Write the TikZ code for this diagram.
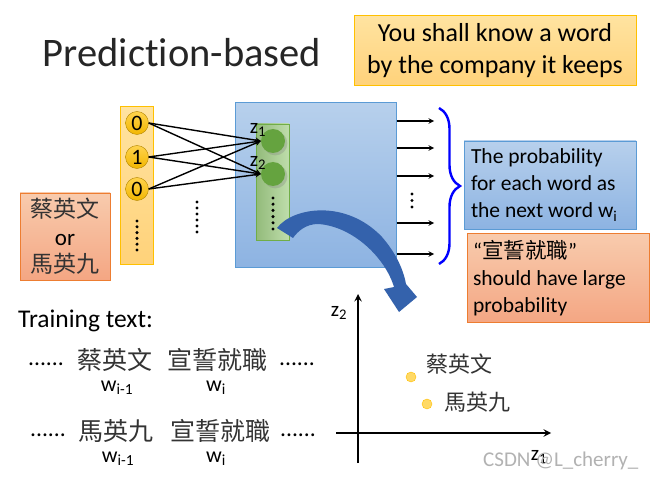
\documentclass[tikz,border=0pt]{standalone}
\usepackage{fontspec}
\setmainfont{Carlito}[RawFeature=-liga]
\newfontfamily\cjk{Noto Sans CJK TC}
\usetikzlibrary{positioning,decorations.pathreplacing,shadows}

\definecolor{goldline}{HTML}{FFC000}
\definecolor{goldtop}{HTML}{FFE3A0}
\definecolor{goldbot}{HTML}{FFD27A}
\definecolor{bluetop}{HTML}{B7D0EC}
\definecolor{bluebot}{HTML}{8DB3E2}
\definecolor{blueline}{HTML}{5B9BD5}
\definecolor{greenfill}{HTML}{A3CF88}
\definecolor{greenline}{HTML}{70AD47}
\definecolor{greenball}{HTML}{65A33F}
\definecolor{orangetop}{HTML}{F8CBAD}
\definecolor{orangebot}{HTML}{F4A683}
\definecolor{orangeline}{HTML}{ED7D31}
\definecolor{bendarrow}{HTML}{3462AC}
\definecolor{dotfill}{HTML}{FFD966}

\begin{document}
\begin{tikzpicture}[x=1pt,y=-1pt,>=stealth,
	cjk/.style={font=\cjk\fontsize{25}{28}\selectfont, text=black!80},
	plain/.style={font=\fontsize{23.5}{26}\selectfont},
	sub/.style={font=\fontsize{21}{22}\selectfont},
	wlab/.style={font=\fontsize{22}{24}\selectfont}]
	\useasboundingbox (0,0) rectangle (656,481);
	\fill[white] (0,0) rectangle (656,481);

	%TITLE & QUOTE
	\node[font=\fontsize{40.5}{44}\selectfont, text=black!85] (title) at (182,53) {Prediction-based};
	\node[draw=goldline, line width=1pt, top color=goldtop, bottom color=goldbot,
		minimum width=282pt, minimum height=70pt, align=center,
		font=\fontsize{26}{32}\selectfont] (quote) at (495,51)
		{You shall know a word\\by the company it keeps};

	%INPUT (1-of-N)
	\node[draw=goldline, line width=1pt, top color=goldtop, bottom color=goldbot,
		minimum width=33pt, minimum height=157pt] (inbox) at (136.5,185.5) {};
	\foreach \v/\y [count=\i from 0] in {0/123,1/157,0/189}{
		\node[circle, draw=goldline!70!black, top color=goldline!70, bottom color=goldline!95!black,
			minimum size=23pt, inner sep=0pt, font=\fontsize{22}{22}\selectfont] (in\i) at (137,\y) {\v};
	}
	\foreach \k in {0,...,5}{
		\fill (137,221+\k*5.8) circle (1.7);
		\fill (197,202+\k*6) circle (1.7);
	}

	%HIDDEN LAYER
	\node[draw=blueline, line width=1pt, top color=bluetop, bottom color=bluebot,
		minimum width=161pt, minimum height=164pt] (net) at (315.5,185) {};
	\node[draw=greenline, line width=0.8pt, left color=greenfill!90!black, right color=greenfill!70,
		minimum width=33pt, minimum height=116pt] (hid) at (272.5,182) {};
	\node[circle, fill=greenball, minimum size=24pt, drop shadow={opacity=0.3}] (z1) at (273,141) {};
	\node[circle, fill=greenball, minimum size=24pt, drop shadow={opacity=0.3}] (z2) at (273,174) {};
	\node[sub, anchor=south east, inner sep=0pt, xshift=2pt, yshift=-4pt] (z1lab) at (z1.north west) {z\textsubscript{1}};
	\node[sub, anchor=south east, inner sep=0pt, xshift=2pt, yshift=-4pt] (z2lab) at (z2.north west) {z\textsubscript{2}};
	\foreach \k in {0,...,5}
		\fill (273,198+\k*6.2) circle (1.7);

	%CONNECTIONS
	\foreach \i in {0,1,2}
		\foreach \j in {1,2}
			\draw[line width=1.4pt,->] (in\i.east) -- (z\j.west);

	%OUTPUTS
	\foreach \y [count=\n] in {121,148,176,223,254}{
		\coordinate (out\n) at (434,\y);
		\draw[line width=1.4pt,->] (net.east |- out\n) -- (out\n);
	}
	\foreach \k in {0,1,2}
		\fill (412,194+\k*6.5) circle (1.7);
	\draw[blue, line width=2.4pt, decorate, decoration={brace, amplitude=21pt}]
		(439,108) -- (439,264);

	%OUTPUT TEXT
	\node[draw=blueline, line width=0.8pt, top color=bluetop, bottom color=bluebot,
		minimum width=172pt, minimum height=88pt, text width=158pt, align=flush left,
		font=\fontsize{21.5}{27}\selectfont] (prob) at (550,185)
		{The probability\\for each word as\\the next word w\textsubscript{i}};
	\node[draw=orangeline, line width=0.8pt, top color=orangetop, bottom color=orangebot,
		minimum width=182pt, minimum height=89pt, text width=170pt, align=flush left,
		font=\fontsize{21.5}{27}\selectfont, below=4pt of prob.south west, anchor=north west,
		xshift=3pt] (large)
		{“{\cjk 宣誓就職}”\\should have large\\probability};

	%INPUT WORD
	\node[draw=orangeline, line width=0.8pt, top color=orangetop, bottom color=orangebot,
		minimum width=90pt, minimum height=87pt, align=center,
		font=\fontsize{23}{27.5}\selectfont] (word) at (65,236.5)
		{{\cjk\color{black!80}蔡英文}\\or\\{\cjk\color{black!80}馬英九}};

	%TRAINING TEXT
	\node[plain, font=\fontsize{25.5}{28}\selectfont, anchor=west, inner sep=0pt] (train) at (18,321) {Training text:};
	\node[plain, anchor=west, inner sep=0pt] (dl1) at (28,364) {......};
	\node[cjk, anchor=west, inner sep=0pt] (cai1) at (77,360) {蔡英文};
	\node[cjk, anchor=west, inner sep=0pt] (xuan1) at (167,360) {宣誓就職};
	\node[plain, anchor=west, inner sep=0pt] (dr1) at (279,364) {......};
	\node[wlab] (wa1) at (117,388) {w\textsubscript{i-1}};
	\node[wlab] (wb1) at (216,388) {w\textsubscript{i}};
	\node[plain, anchor=west, inner sep=0pt] (dl2) at (30,435) {......};
	\node[cjk, anchor=west, inner sep=0pt] (ma2) at (78,431) {馬英九};
	\node[cjk, anchor=west, inner sep=0pt] (xuan2) at (170,431) {宣誓就職};
	\node[plain, anchor=west, inner sep=0pt] (dr2) at (280,435) {......};
	\node[wlab] (wa2) at (118,459) {w\textsubscript{i-1}};
	\node[wlab] (wb2) at (216,459) {w\textsubscript{i}};

	%BENT ARROW
	\fill[bendarrow] (277,228) .. controls (293,207) and (346,199) .. (382,237)
		.. controls (395,252) and (403,268) .. (406,284)
		-- (417,297) -- (399,312) -- (384,289) -- (394,287)
		.. controls (385,257) and (352,226) .. (318,224)
		.. controls (306,224) and (298,231) .. (293,238) -- cycle;

	%EMBEDDING SPACE
	\coordinate (xend) at (551,433);
	\coordinate (yend) at (358,294);
	\draw[line width=2.2pt,->] (336,433) -- (xend);
	\draw[line width=2.2pt,->] (358,463) -- (yend);
	\node[sub] (z2ax) at (339,313) {z\textsubscript{2}};
	\node[sub] (z1ax) at (539,457) {z\textsubscript{1}};
	\fill[dotfill, draw=goldline] (411,377) circle (5);
	\fill[dotfill, draw=goldline] (427,404) circle (5);
	\node[cjk, font=\cjk\fontsize{22}{24}\selectfont, anchor=west, inner sep=0pt] (cai) at (426,364) {蔡英文};
	\node[cjk, font=\cjk\fontsize{22}{24}\selectfont, anchor=west, inner sep=0pt] (ma) at (444,402) {馬英九};

	\node[font=\fontsize{21}{22}\selectfont, text=black!30, anchor=west, inner sep=0pt] (mark) at (483,461) {CSDN @L\_cherry\_};
\end{tikzpicture}
\end{document}
